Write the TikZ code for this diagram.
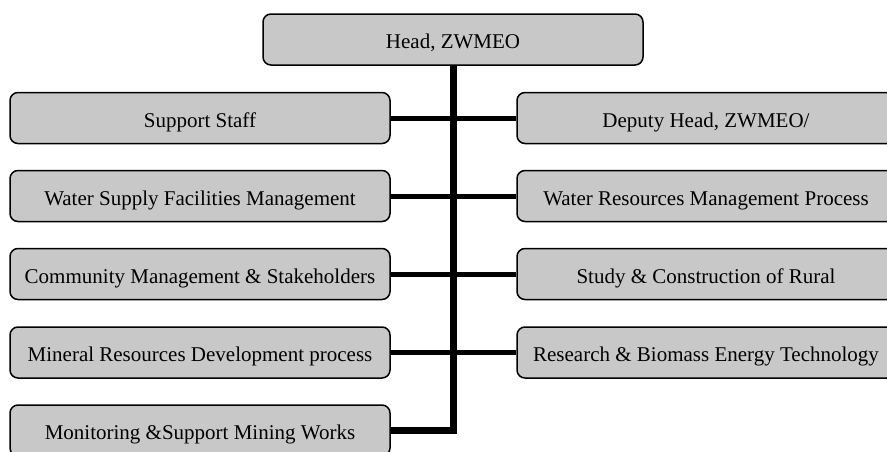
\documentclass[tikz,border=0pt]{standalone}
\usepackage{fontspec}
\setmainfont{Liberation Serif}
\begin{document}
\begin{tikzpicture}[x=1pt,y=-1pt,
  unit/.style={draw=black, line width=1.5pt, fill=boxgray, rounded corners=8pt,
    minimum height=51pt, inner sep=0pt, text height=18pt, text depth=0pt,
    font=\fontsize{21}{25}\selectfont},
  leftunit/.style={unit, minimum width=380pt},
  rightunit/.style={unit, minimum width=378pt},
  link/.style={line width=5pt},
  trunk/.style={line width=7pt, line join=miter}]
\definecolor{boxgray}{RGB}{200,200,200}
\useasboundingbox (0,0) rectangle (887,451);
\clip (0,0) rectangle (887,451);

% top of the chart
\node[leftunit] (head) at (453,39.5) {Head, ZWMEO};

% left column
\node[leftunit] (l1) at (200,118) {Support Staff};
\node[leftunit] (l2) at (200,196) {Water Supply Facilities Management};
\node[leftunit] (l3) at (200,274) {Community Management \& Stakeholders};
\node[leftunit] (l4) at (200,352.5) {Mineral Resources Development process};
\node[leftunit] (l5) at (200,430.5) {Monitoring \&Support Mining Works};

% right column
\node[rightunit] (r1) at (706,118) {Deputy Head, ZWMEO/};
\node[rightunit] (r2) at (706,196) {Water Resources Management Process};
\node[rightunit] (r3) at (706,274) {Study \& Construction of Rural};
\node[rightunit] (r4) at (706,352.5) {Research \& Biomass Energy Technology};

% cross links through the trunk
\draw[link] (l1.east) -- (r1.west);
\draw[link] (l2.east) -- (r2.west);
\draw[link] (l3.east) -- (r3.west);
\draw[link] (l4.east) -- (r4.west);

% main trunk down to the last unit
\coordinate (corner) at (head.south |- l5.east);
\draw[trunk] (head.south) -- (corner) -- (l5.east);
\end{tikzpicture}
\end{document}
